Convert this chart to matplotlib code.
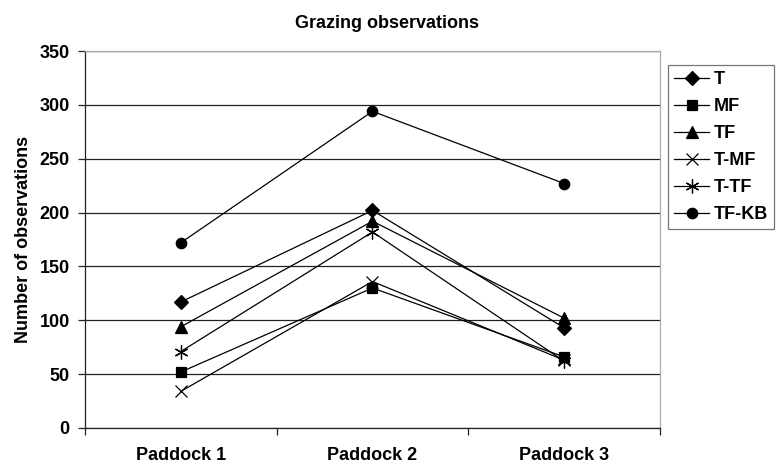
import numpy as np
import matplotlib
matplotlib.use("Agg")
import matplotlib.pyplot as plt
from matplotlib.ticker import FixedLocator, NullFormatter

# === DATA ===
paddocks = ["Paddock 1", "Paddock 2", "Paddock 3"]
t_vals = [117, 202, 93]
mf_vals = [52, 130, 66]
tf_vals = [94, 192, 102]
tmf_vals = [34, 136, 63]
ttf_vals = [71, 182, 62]
tfkb_vals = [172, 294, 227]
y_ticks = [0, 50, 100, 150, 200, 250, 300, 350]

series = [
    ("T", t_vals, "D"),
    ("MF", mf_vals, "s"),
    ("TF", tf_vals, "^"),
    ("T-MF", tmf_vals, "x"),
    ("T-TF", ttf_vals, (6, 2, 0)),
    ("TF-KB", tfkb_vals, "o"),
]

plt.rcParams["font.family"] = ["Liberation Sans", "DejaVu Sans"]
plt.rcParams["font.weight"] = "bold"

fig = plt.figure(figsize=(7.76, 4.63), dpi=100)
ax = fig.add_axes([0.1095, 0.0756, 0.741, 0.8142])

x = np.arange(len(paddocks))
sizes = {"D": 7, "s": 7, "^": 8, "x": 9, "o": 7.5}
for name, vals, mk in series:
    ms = sizes.get(mk, 10) if isinstance(mk, str) else 10
    ax.plot(x, vals, color="black", linewidth=0.9, marker=mk, markersize=ms,
            markerfacecolor="black", markeredgecolor="black", markeredgewidth=0.9,
            label=name)

ax.set_xlim(-0.5, 2.5)
ax.set_ylim(0, 350)
ax.set_yticks(y_ticks)
ax.yaxis.grid(True, color="#222222", linewidth=0.9)
ax.set_axisbelow(True)

ax.set_xticks(x)
ax.set_xticklabels(paddocks, fontsize=13, fontweight="bold")
ax.xaxis.set_minor_locator(FixedLocator([-0.5, 0.5, 1.5, 2.5]))
ax.xaxis.set_minor_formatter(NullFormatter())
ax.tick_params(axis="x", which="major", length=0, pad=14)
ax.tick_params(axis="x", which="minor", length=5, width=0.9, color="#222222", direction="out")
ax.tick_params(axis="y", length=5, width=0.9, color="#222222", pad=6, labelsize=13)
for lab in ax.get_yticklabels():
    lab.set_fontweight("bold")

ax.spines["left"].set_color("#222222")
ax.spines["bottom"].set_color("#222222")
ax.spines["top"].set_color("#aaaaaa")
ax.spines["right"].set_color("#aaaaaa")
for s in ax.spines.values():
    s.set_linewidth(0.9)

ax.set_ylabel("Number of observations", fontsize=13, fontweight="bold", labelpad=5)
fig.text(0.499, 0.95, "Grazing observations", ha="center", va="center",
         fontsize=13, fontweight="bold")

leg = ax.legend(loc="upper left", bbox_to_anchor=(1.0135, 0.963), frameon=True,
                fancybox=False, fontsize=13, handlelength=1.95, handletextpad=0.25,
                labelspacing=0.55, borderpad=0.35, borderaxespad=0)
leg.get_frame().set_edgecolor("#555555")
leg.get_frame().set_linewidth(0.9)
for t in leg.get_texts():
    t.set_fontweight("bold")

fig.savefig("out.png", dpi=100)
